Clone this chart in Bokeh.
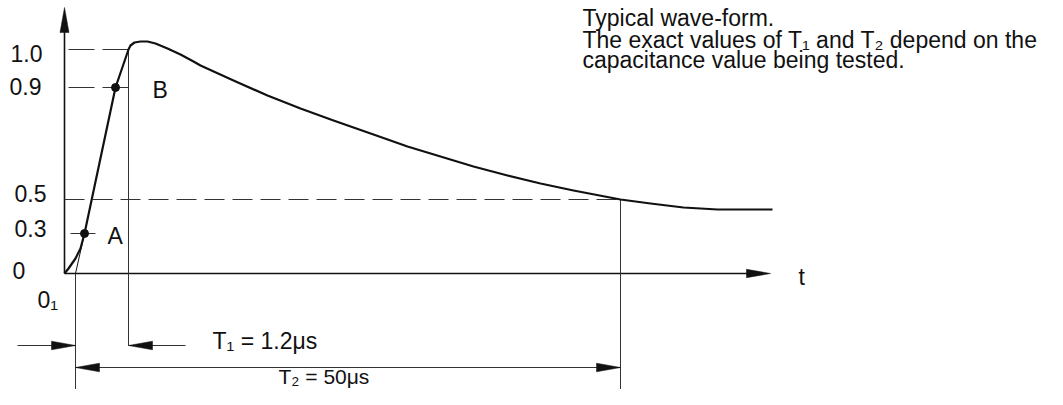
from bokeh.plotting import figure
from bokeh.models import Range1d
from bokeh.embed import file_html
from bokeh.resources import INLINE
from bokeh.core.properties import value

# Schematic diagram coordinates: x along the t axis, y = height above the t axis
# Wave-form
wave_x = [0, 4, 11, 16, 20, 51, 64, 66, 70, 76, 83, 91, 103, 116, 129, 136, 169, 203, 236,
          269, 309, 343, 376, 409, 443, 476, 509, 556, 586, 619, 653, 686, 708]
wave_y = [0, 5, 15, 25, 40, 186, 224, 228, 231, 232, 232, 230, 225, 219, 212, 208, 193, 178, 165,
          153, 139, 127, 117, 107, 98, 90, 83, 74, 70, 66, 64, 64, 64]

# Levels on the vertical axis
level_labels = ["0", "0.3", "0.5", "0.9", "1.0"]
level_y = [0, 40, 74, 186, 224]

# Marked points A (0.3) and B (0.9)
point_names = ["A", "B"]
point_x = [20, 51]
point_y = [40, 186]

# Time marks
origin_x = 11      # virtual origin 0_1
t1_x = 64          # end of front (T1)
t2_x = 556         # time to half value (T2)
t1_label = "T\u2081 = 1.2\u03bcs"
t2_label = "T\u2082 = 50\u03bcs"
note_lines = ["Typical wave-form.",
              "The exact values of T\u2081 and T\u2082 depend on the",
              "capacitance value being tested."]

axis_t_end = 706
axis_v_end = 266

FONT = "Liberation Sans"
FS = "23px"
INK = "#111111"
THIN = "#333333"
TY = 8  # vertical correction for text placement

p = figure(width=1047, height=389, output_backend="svg", toolbar_location=None,
           x_range=Range1d(-64, 983), y_range=Range1d(-116, 273),
           x_axis_type=None, y_axis_type=None, min_border=0)
p.outline_line_color = None
p.grid.visible = False
p.background_fill_color = "white"


def head(tx, ty, dx, dy, length, half):
    bx, by = tx - dx * length, ty - dy * length
    nx, ny = -dy, dx
    return [tx, bx + nx * half, bx - nx * half], [ty, by + ny * half, by - ny * half]


heads_x, heads_y = [], []

# axes
p.line([0, 0], [0, axis_v_end - 20], line_color=INK, line_width=1.6)
p.line([0, axis_t_end - 20], [0, 0], line_color=INK, line_width=1.6)
hx, hy = head(0, axis_v_end, 0, 1, 25, 4.5); heads_x.append(hx); heads_y.append(hy)
hx, hy = head(axis_t_end, 0, 1, 0, 24, 4.2); heads_x.append(hx); heads_y.append(hy)

# level guide lines
i09 = level_labels.index("0.9"); i10 = level_labels.index("1.0")
i05 = level_labels.index("0.5"); i03 = level_labels.index("0.3")
p.line([4, t1_x], [level_y[i10]] * 2, line_color=THIN, line_width=1, line_dash="26 8")
p.line([4, t1_x], [level_y[i09]] * 2, line_color=THIN, line_width=1, line_dash="26 8")
p.line([0, t2_x], [level_y[i05]] * 2, line_color=THIN, line_width=1, line_dash="20 8")
p.line([6, 31], [level_y[i03]] * 2, line_color=THIN, line_width=1)

# dimension line heights (below the t axis)
y_dim1 = -72
y_dim2 = -94
y_low = -117

# vertical reference lines
p.line([origin_x, origin_x], [0, y_low], line_color=THIN, line_width=1)
p.line([t1_x, t1_x], [level_y[i10], y_dim1], line_color=THIN, line_width=1)
p.line([t2_x, t2_x], [level_y[i05], y_low], line_color=THIN, line_width=1)

# straight line through A and B down to 0_1
p.line([origin_x, point_x[0]], [0, point_y[0]], line_color=INK, line_width=1)

# dimension arrows
p.line([-47, origin_x], [y_dim1, y_dim1], line_color=THIN, line_width=1)
hx, hy = head(origin_x, y_dim1, 1, 0, 24, 4.3); heads_x.append(hx); heads_y.append(hy)
p.line([t1_x, 121], [y_dim1, y_dim1], line_color=THIN, line_width=1)
hx, hy = head(t1_x, y_dim1, -1, 0, 24, 4.3); heads_x.append(hx); heads_y.append(hy)
p.line([origin_x, t2_x], [y_dim2, y_dim2], line_color=THIN, line_width=1)
hx, hy = head(origin_x, y_dim2, -1, 0, 24, 4.3); heads_x.append(hx); heads_y.append(hy)
hx, hy = head(t2_x, y_dim2, 1, 0, 24, 4.3); heads_x.append(hx); heads_y.append(hy)

p.patches(heads_x, heads_y, fill_color=INK, line_color=INK, line_width=0.5)

# wave-form
p.line(wave_x, wave_y, line_color=INK, line_width=2.2, line_join="round")
p.scatter(point_x, point_y, size=8, fill_color=INK, line_color=INK)

# texts
lab_dx = [-52, -50, -50, -55, -54]
lab_dy = [-5, -3, -2, -7, -12]
txt = dict(text_font=value(FONT), text_font_size=FS, text_color=INK,
           text_align="left", text_baseline="alphabetic")
p.text(lab_dx, [y + o + TY for y, o in zip(level_y, lab_dy)], text=level_labels, **txt)
p.text([point_x[0] + 23, point_x[1] + 37], [point_y[0] - 10 + TY, point_y[1] - 10 + TY],
       text=point_names, **txt)
p.text([axis_t_end + 28], [-11 + TY], text=["t"], **txt)
p.text([-27], [-34 + TY], text=["0\u2081"], **txt)
p.text([t1_x + 84], [y_dim1 - 3 + TY], text=[t1_label], **txt)
p.text([214], [-111 + TY], text=[t2_label], text_font=value(FONT), text_font_size="21px",
       text_color=INK, text_align="left", text_baseline="alphabetic")
p.text([518, 518, 518], [248 + TY, 226 + TY, 206 + TY], text=note_lines, **txt)

open("out.html", "w").write(file_html(p, INLINE))
